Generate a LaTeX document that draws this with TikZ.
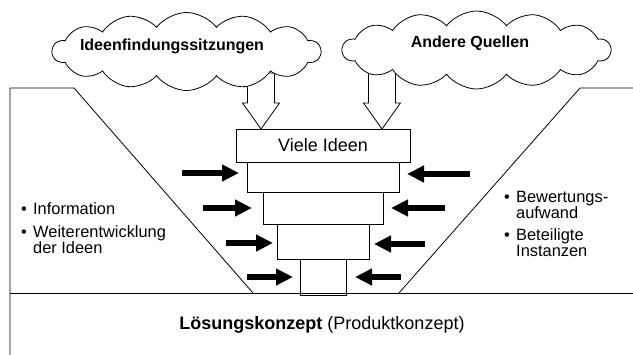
\documentclass[tikz,border=0pt]{standalone}
\usepackage{fontspec}
\setmainfont{Liberation Sans}
\usetikzlibrary{shapes.symbols, arrows.meta, positioning}
\newcommand{\bul}{\makebox[12pt][l]{\textbullet}}
\newcommand{\indentbul}{\hspace*{12pt}}
\newcommand{\widthcloud}{268pt}
\newcommand{\heightcloud}{78pt}
\tikzset{
    common/.style={draw, line width=0.8pt},
    level/.style={common, rectangle, anchor=north, inner sep=0pt, outer sep=0pt, font=\fontsize{18}{18}\selectfont},
    source/.style={common, cloud, fill=white, cloud puffs=14, cloud puff arc=105, aspect=3.4,
        minimum width=\widthcloud, minimum height=\heightcloud, inner sep=0pt},
    sourcetext/.style={font=\fontsize{16}{16}\selectfont\bfseries},
    inflow/.style={common, fill=white},
    push/.style={line width=6pt, -{Triangle[length=17pt, width=16pt]}},
    notes/.style={align=left, inner sep=0pt, anchor=west, font=\fontsize{16.4}{15.5}\selectfont}
}
\begin{document}
\begin{tikzpicture}[x=1pt, y=-1pt]
        \useasboundingbox (0,0) rectangle (633,355);

        \coordinate (frame-top-left) at (10,88);
        \coordinate (frame-top-right) at (633,88);
        \coordinate (funnel-left) at (253,293);
        \coordinate (funnel-right) at (399,293);
        \draw[common] (10,355) -- (frame-top-left) -- (74,88) -- (funnel-left);
        \draw[common] (10,293) -- (633,293);
        \draw[common] (funnel-right) -- (580,88) -- (frame-top-right);

        \coordinate (tip-A) at (261,129);
        \coordinate (tip-B) at (382,129);
        \draw[inflow] (tip-A) -- ++(-18.5,-26) -- ++(5,0) -- ++(0,-30) -- ++(27,0) -- ++(0,30) -- ++(5,0) -- cycle;
        \draw[inflow] (tip-B) -- ++(-18.5,-26) -- ++(5,0) -- ++(0,-40) -- ++(27,0) -- ++(0,40) -- ++(5,0) -- cycle;

        \node[source] (cloud-A) at (186.5,51.5) {};
        \node[source] (cloud-B) at (476.5,50) {};
        \node[sourcetext] (cloud-A-text) at (172,46) {Ideenfindungssitzungen};
        \node[sourcetext] (cloud-B-text) at (470,43) {Andere Quellen};

        \node[level, minimum width=174pt, minimum height=33pt] (level-1) at (323,129) {Viele Ideen};
        \node[level, minimum width=152pt, minimum height=30pt, below=0pt of level-1] (level-2) {};
        \node[level, minimum width=120pt, minimum height=32pt, below=0pt of level-2] (level-3) {};
        \node[level, minimum width=92pt, minimum height=35pt, below=0pt of level-3] (level-4) {};
        \node[level, minimum width=46pt, minimum height=36pt, below=0pt of level-4] (level-5) {};

        \coordinate (push-L1) at (182,173);
        \coordinate (push-L2) at (203,208);
        \coordinate (push-L3) at (226,243);
        \coordinate (push-L4) at (247,277);
        \coordinate (push-R1) at (470,174);
        \coordinate (push-R2) at (445,208);
        \coordinate (push-R3) at (425,244);
        \coordinate (push-R4) at (401,277);

        \draw[push, shorten >=8pt] (push-L1) -- (push-L1 -| level-2.west);
        \draw[push, shorten >=11pt] (push-L2) -- (push-L2 -| level-3.west);
        \draw[push, shorten >=4pt] (push-L3) -- (push-L3 -| level-4.west);
        \draw[push, shorten >=7pt] (push-L4) -- (push-L4 -| level-5.west);
        \draw[push, shorten >=8pt] (push-R1) -- (push-R1 -| level-2.east);
        \draw[push, shorten >=8pt] (push-R2) -- (push-R2 -| level-3.east);
        \draw[push, shorten >=5pt] (push-R3) -- (push-R3 -| level-4.east);
        \draw[push, shorten >=9pt] (push-R4) -- (push-R4 -| level-5.east);

        \node[notes] (notes-left) at (21,228) {\bul Information\\[7.5pt]\bul Weiterentwicklung\\\indentbul der Ideen};
        \node[notes] (notes-right) at (504,224) {\bul Bewertungs-\\\indentbul aufwand\\[7pt]\bul Beteiligte\\\indentbul Instanzen};

        \node[font=\fontsize{18}{18}\selectfont] (concept) at (322,325) {\textbf{Lösungskonzept} (Produktkonzept)};

    \end{tikzpicture}
\end{document}
